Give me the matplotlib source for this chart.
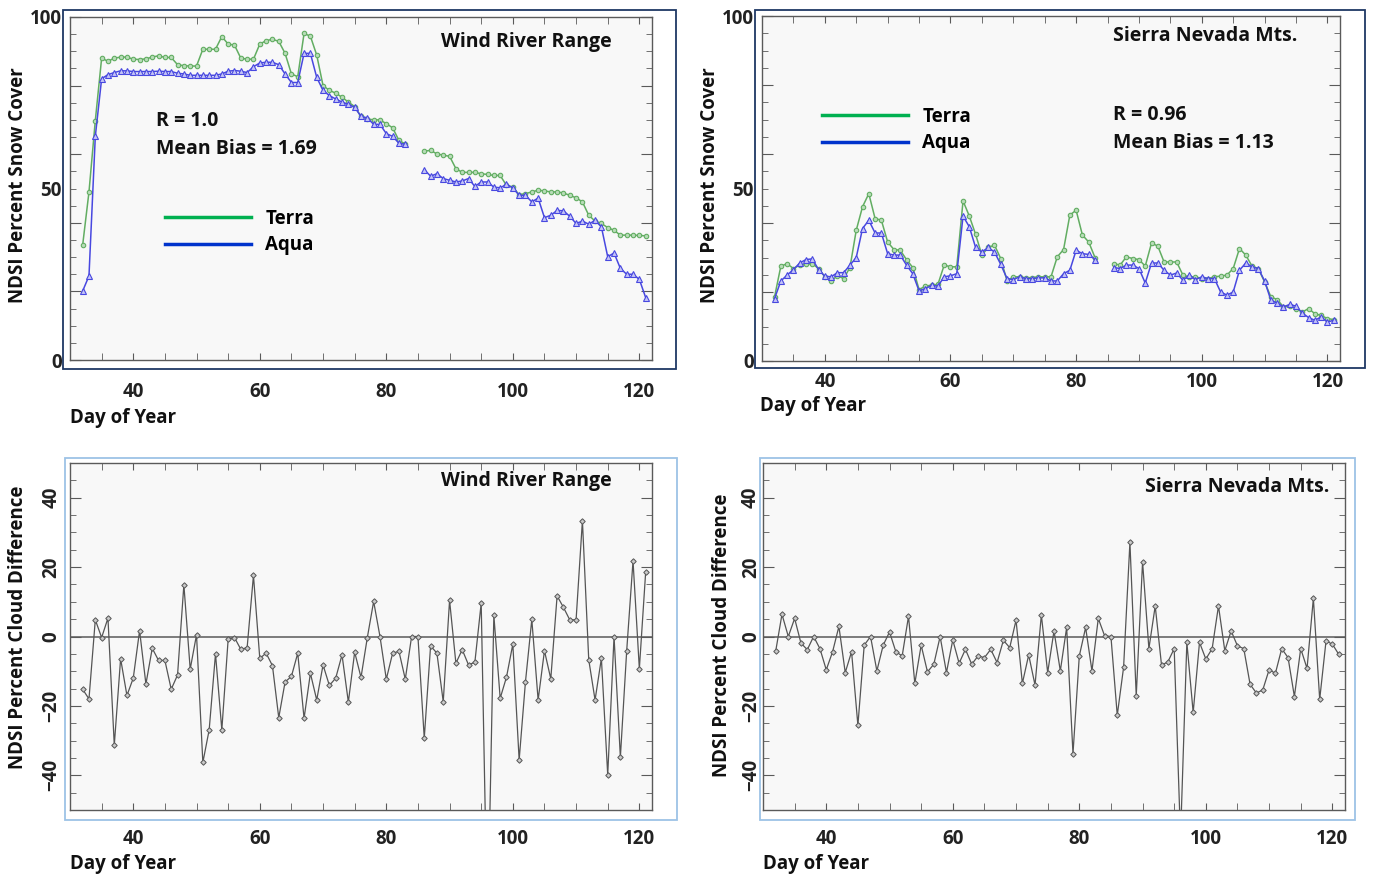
import numpy as np
import matplotlib
matplotlib.use("Agg")
import matplotlib.pyplot as plt
from matplotlib.lines import Line2D
from matplotlib.patches import Rectangle
from matplotlib.ticker import MultipleLocator

plt.rcParams['font.family'] = ['Open Sans', 'DejaVu Sans']
plt.rcParams['font.weight'] = 'bold'

# ---- data (day of year 32..121) ----
nan = np.nan
days = np.arange(32, 122)

wind_terra = [33.5, 49.0, 69.8, 88.0, 87.1, 88.0, 88.3, 88.3, 87.7, 87.6,
              87.8, 88.3, 88.7, 88.2, 88.2, 86.1, 85.8, 85.7, 85.7, 90.6,
              90.6, 90.6, 94.3, 92.1, 91.8, 88.0, 87.7, 87.7, 92.1, 93.1,
              93.5, 92.9, 89.4, 83.4, 82.6, 95.2, 94.4, 88.9, 80.0, 78.6,
              77.8, 76.6, 75.2, 73.9, 71.0, 70.3, 70.0, 70.0, 68.9, 67.7,
              64.0, 63.0, nan, nan, 60.9, 61.1, 60.1, 59.7, 59.4, 55.8,
              54.7, 54.7, 54.7, 54.3, 54.1, 53.8, 53.8, 50.9, 50.4, 48.2,
              48.5, 49.0, 49.5, 49.3, 49.0, 49.0, 48.7, 48.0, 47.3, 46.1,
              42.2, 40.5, 39.8, 38.6, 37.8, 36.4, 36.4, 36.4, 36.3, 36.2]

wind_aqua = [20.1, 24.5, 65.2, 82.0, 83.2, 83.8, 84.3, 84.3, 84.1, 84.1,
             84.1, 84.1, 84.2, 84.1, 84.1, 83.6, 83.4, 83.0, 83.0, 83.0,
             83.0, 83.0, 83.4, 84.2, 84.4, 84.2, 83.8, 85.5, 86.6, 86.8,
             86.8, 86.1, 83.4, 80.9, 80.9, 89.4, 89.4, 82.4, 78.6, 77.1,
             76.1, 75.2, 74.5, 73.7, 71.0, 70.6, 68.7, 68.7, 66.0, 65.2,
             63.2, 62.9, nan, nan, 55.5, 53.6, 54.3, 52.9, 52.4, 51.9,
             52.2, 52.9, 50.6, 51.9, 51.9, 50.4, 50.2, 51.2, 50.2, 48.0,
             48.0, 46.1, 47.2, 41.5, 42.2, 43.6, 43.5, 41.9, 39.8, 40.5,
             39.6, 40.7, 38.8, 30.1, 31.2, 26.7, 25.0, 25.0, 23.5, 18.2]

sierra_terra = [18.6, 27.5, 28.2, 26.8, 27.8, 28.0, 28.2, 26.8, 24.4, 23.2,
                24.7, 23.9, 27.1, 37.9, 44.7, 48.5, 41.3, 40.8, 34.5, 32.3,
                32.1, 29.4, 27.1, 20.7, 21.7, 22.0, 22.2, 27.8, 27.3, 27.3,
                46.4, 42.0, 36.7, 30.7, 32.9, 33.6, 29.7, 23.2, 24.4, 24.4,
                24.1, 24.2, 24.4, 24.4, 24.4, 30.2, 32.3, 42.3, 43.7, 36.5,
                34.5, 30.0, nan, nan, 28.2, 27.8, 30.2, 29.7, 29.4, 27.5,
                34.2, 33.3, 28.7, 28.7, 28.7, 24.9, 24.4, 24.4, 23.9, 23.9,
                24.4, 24.6, 24.9, 26.8, 32.6, 30.7, 27.5, 26.8, 22.9, 18.6,
                17.8, 15.7, 15.9, 15.2, 14.2, 15.2, 13.7, 13.2, 12.3, 12.0]

sierra_aqua = [18.1, 23.2, 24.9, 26.5, 28.4, 29.4, 29.6, 26.5, 24.6, 24.4,
               25.6, 25.6, 27.8, 30.0, 38.4, 40.8, 37.1, 37.1, 31.1, 30.7,
               30.7, 27.8, 25.3, 20.3, 21.0, 21.9, 21.7, 24.4, 24.7, 25.3,
               42.0, 38.9, 32.9, 31.6, 32.9, 31.6, 28.0, 23.9, 23.6, 24.4,
               23.9, 23.9, 24.1, 24.1, 23.2, 23.2, 25.3, 26.3, 32.1, 31.1,
               30.9, 29.4, nan, nan, 27.1, 26.8, 27.8, 27.8, 26.8, 22.6,
               28.4, 28.4, 26.3, 24.9, 25.5, 23.4, 24.9, 23.6, 24.4, 23.9,
               23.9, 20.0, 19.1, 20.0, 26.3, 28.4, 27.3, 26.8, 23.2, 17.6,
               16.8, 15.7, 16.4, 15.9, 13.9, 12.6, 11.8, 12.8, 11.3, 11.8]

wind_cloud = [-15.2, -18.0, 4.8, -0.3, 5.3, -31.3, -6.4, -17.0, -12.0, 1.7,
              -13.7, -3.4, -6.9, -6.9, -15.2, -11.1, 14.9, -9.4, 0.5, -36.3,
              -26.9, -5.0, -26.9, -0.8, -0.3, -3.7, -3.2, 17.6, -6.3, -4.8,
              -8.4, -23.4, -13.1, -11.5, -4.8, -23.6, -10.6, -18.3, -8.2, -14.1,
              -12.0, -5.3, -18.9, -4.5, -11.8, -0.3, 10.1, 0.0, -12.3, -4.8,
              -4.3, -12.3, 0.0, 0.0, -29.3, -2.7, -4.8, -18.8, 10.4, -7.7,
              -3.8, -8.2, -7.4, 9.6, -85.0, 6.1, -17.8, -11.7, -2.2, -35.6,
              -13.0, 4.9, -18.3, -4.1, -12.2, 11.7, 8.4, 4.8, 4.8, 33.4,
              -6.7, -18.3, -6.3, -39.9, 0.0, -34.8, -4.1, 21.8, -9.3, 18.6]

sierra_cloud = [-4.3, 6.4, 0.0, 5.2, -1.9, -3.8, 0.0, -3.5, -9.6, -4.4,
                2.9, -10.4, -4.4, -25.6, -2.5, 0.0, -9.9, -2.5, 1.3, -4.4,
                -5.6, 5.8, -13.5, -2.5, -10.2, -8.0, 0.0, -10.4, -1.0, -7.7,
                -3.7, -8.0, -5.6, -6.1, -3.7, -7.5, -1.1, -3.2, 4.7, -13.5,
                -5.3, -14.0, 6.2, -10.4, 1.6, -9.9, 2.6, -33.8, -5.6, 2.6,
                -9.9, 5.2, 0.2, 0.0, -22.7, -8.9, 27.1, -17.1, 21.5, -3.5,
                8.8, -8.3, -7.3, -3.5, -58.0, -1.7, -21.9, -1.7, -6.5, -3.5,
                8.8, -4.1, 1.6, -2.7, -3.5, -13.8, -16.3, -15.4, -9.6, -10.6,
                -3.5, -6.1, -17.3, -3.5, -9.2, 11.0, -18.1, -1.3, -2.2, -5.1]

W, H = 1373, 876
FS = 13.5
fig = plt.figure(figsize=(W / 100, H / 100), dpi=100)


def px_rect(l, t, r, b):
    return [l / W, 1 - b / H, (r - l) / W, (b - t) / H]


def style_axes(ax, ylim, xpad):
    ax.set_facecolor('#f8f8f8')
    ax.set_xlim(30, 122)
    ax.set_ylim(*ylim)
    for s in ax.spines.values():
        s.set_color('#5a5a5a')
        s.set_linewidth(1.0)
    ax.xaxis.set_major_locator(MultipleLocator(20))
    ax.xaxis.set_minor_locator(MultipleLocator(5))
    ax.yaxis.set_minor_locator(MultipleLocator(5))
    ax.tick_params(axis='x', which='both', direction='in', length=5, top=True,
                   color='#5a5a5a', labelcolor='#222222', labelsize=FS, pad=xpad)
    ax.tick_params(axis='y', which='major', direction='in', length=8, right=True,
                   color='#5a5a5a', labelcolor='#222222', labelsize=FS)
    ax.tick_params(axis='y', which='minor', direction='in', length=4, right=True,
                   color='#5a5a5a')


green, blue = '#62ad62', '#4848e0'


def snow_panel(rect, terra, aqua, xpad):
    ax = fig.add_axes(px_rect(*rect))
    style_axes(ax, (0, 100), xpad)
    ax.yaxis.set_major_locator(MultipleLocator(20))
    ax.tick_params(axis='y', labelleft=False)
    sec = ax.secondary_yaxis('left')
    sec.set_yticks([0, 50, 100])
    sec.tick_params(length=0, labelsize=FS, pad=6, labelcolor='#222222')
    sec.spines['left'].set_visible(False)
    ax.plot(days, terra, color=green, lw=1.1, marker='o', ms=3.2,
            mfc='#b8dcb8', mec=green, mew=0.8)
    ax.plot(days, aqua, color=blue, lw=1.1, marker='^', ms=3.8,
            mfc='#c4c4f6', mec=blue, mew=0.8)
    return ax


def cloud_panel(rect, diff, ypad):
    ax = fig.add_axes(px_rect(*rect))
    style_axes(ax, (-50, 50), 14)
    ax.yaxis.set_major_locator(MultipleLocator(20))
    ax.tick_params(axis='y', labelrotation=90, pad=ypad)
    for lab in ax.get_yticklabels():
        lab.set_va('center')
    ax.axhline(0, color='#666666', lw=1.2, zorder=1)
    ax.plot(days, diff, color='#555555', lw=0.9, marker='D', ms=2.8,
            mfc='#c8c8c8', mec='#555555', mew=0.7, zorder=2)
    return ax


def add_legend(ax, anchor):
    handles = [Line2D([], [], color='#00b050', lw=2.5),
               Line2D([], [], color='#0033cc', lw=2.5)]
    ax.legend(handles, ['Terra', 'Aqua'], loc='upper left', bbox_to_anchor=anchor,
              frameon=False, fontsize=FS, handlelength=4.6, handletextpad=0.75,
              labelspacing=0.36, borderpad=0, borderaxespad=0)


txt = dict(fontsize=14, fontweight='bold', color='#111111')

# top left: Wind River Range snow cover
ax1 = snow_panel((70, 17, 652, 360), wind_terra, wind_aqua, 15.5)
ax1.text(0.637, 0.927, 'Wind River Range', transform=ax1.transAxes, va='center', **txt)
ax1.text(0.148, 0.697, 'R = 1.0', transform=ax1.transAxes, va='center', **txt)
ax1.text(0.148, 0.615, 'Mean Bias = 1.69', transform=ax1.transAxes, va='center', **txt)
add_legend(ax1, (0.163, 0.441))

# top right: Sierra Nevada snow cover
ax2 = snow_panel((762, 16, 1340, 361), sierra_terra, sierra_aqua, 8)
ax2.text(0.607, 0.942, 'Sierra Nevada Mts.', transform=ax2.transAxes, va='center', **txt)
ax2.text(0.607, 0.713, 'R = 0.96', transform=ax2.transAxes, va='center', **txt)
ax2.text(0.607, 0.632, 'Mean Bias = 1.13', transform=ax2.transAxes, va='center', **txt)
add_legend(ax2, (0.104, 0.737))

# bottom: cloud differences
ax3 = cloud_panel((70, 463, 652, 810), wind_cloud, 6)
ax3.text(0.637, 0.948, 'Wind River Range', transform=ax3.transAxes, va='center', **txt)
ax4 = cloud_panel((763, 463, 1345, 810), sierra_cloud, 1.5)
ax4.text(0.656, 0.931, 'Sierra Nevada Mts.', transform=ax4.transAxes, va='center', **txt)

# axis titles
lab = dict(fontsize=FS, fontweight='bold', color='#111111')
fig.text(70 / W, 1 - 418 / H, 'Day of Year', ha='left', va='center', **lab)
fig.text(760 / W, 1 - 406 / H, 'Day of Year', ha='left', va='center', **lab)
fig.text(70 / W, 1 - 864 / H, 'Day of Year', ha='left', va='center', **lab)
fig.text(763 / W, 1 - 864 / H, 'Day of Year', ha='left', va='center', **lab)
fig.text(18 / W, 1 - 185 / H, 'NDSI Percent Snow Cover', rotation=90, ha='center', va='center', **lab)
fig.text(710 / W, 1 - 185 / H, 'NDSI Percent Snow Cover', rotation=90, ha='center', va='center', **lab)
fig.text(18 / W, 1 - 627 / H, 'NDSI Percent Cloud Difference', rotation=90, ha='center', va='center', **lab)
fig.text(722 / W, 1 - 635 / H, 'NDSI Percent Cloud Difference', rotation=90, ha='center', va='center', **lab)

# panel borders
for (l, t, r, b), col in [((63, 10, 676, 369), '#1f3864'), ((755, 10, 1365, 368), '#1f3864'),
                          ((65, 458, 677, 820), '#9dc3e6'), ((760, 458, 1355, 820), '#9dc3e6')]:
    fig.add_artist(Rectangle((l / W, 1 - b / H), (r - l) / W, (b - t) / H,
                             transform=fig.transFigure, fill=False, ec=col, lw=1.3))

fig.savefig('out.png', dpi=100)
